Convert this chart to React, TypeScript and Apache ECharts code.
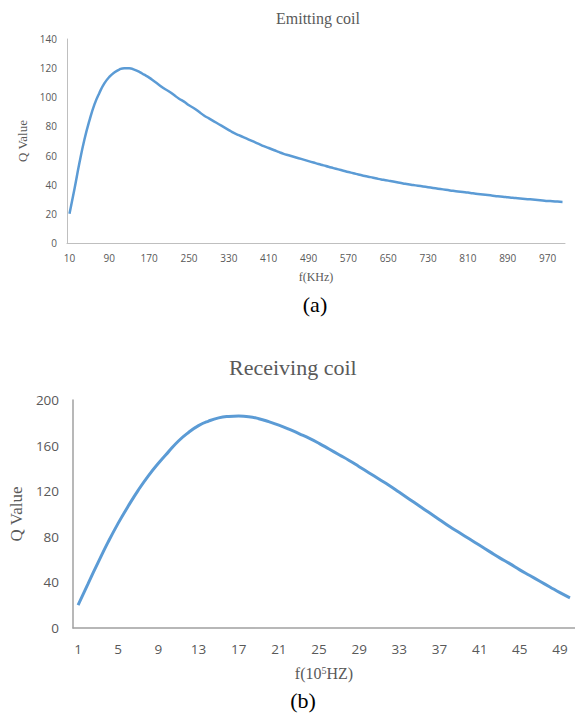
import React, { useEffect, useRef } from "react";
import * as echarts from "echarts";

const emitFreq = [
  10, 20, 30, 40, 50, 60, 70, 80, 90, 100, 110, 120, 130, 140, 150, 160, 170, 180, 190, 200,
  210, 220, 230, 240, 250, 260, 270, 280, 290, 300, 310, 320, 330, 340, 350, 360, 370, 380, 390, 400,
  410, 420, 430, 440, 450, 460, 470, 480, 490, 500, 510, 520, 530, 540, 550, 560, 570, 580, 590, 600,
  610, 620, 630, 640, 650, 660, 670, 680, 690, 700, 710, 720, 730, 740, 750, 760, 770, 780, 790, 800,
  810, 820, 830, 840, 850, 860, 870, 880, 890, 900, 910, 920, 930, 940, 950, 960, 970, 980, 990, 1000,
];
const emitQ = [
  20, 37, 55, 71, 84, 95, 103, 109.5, 114, 117, 119, 120, 120, 119, 117.5, 115.5, 113.5, 111, 108.5, 106,
  104, 101.5, 99, 97, 94.5, 92.5, 90, 87.5, 85.5, 83.5, 81.5, 79.5, 77.5, 75.5, 74, 72.5, 71, 69.5, 68, 66.5,
  65.2, 63.8, 62.5, 61.2, 60.2, 59.2, 58.2, 57.2, 56.2, 55.2, 54.2, 53.3, 52.3, 51.4, 50.5, 49.6, 48.7, 47.9, 47, 46.2,
  45.5, 44.8, 44, 43.4, 42.8, 42.2, 41.5, 40.9, 40.3, 39.8, 39.3, 38.8, 38.3, 37.8, 37.3, 36.8, 36.3, 35.8, 35.4, 35,
  34.6, 34.1, 33.7, 33.3, 32.9, 32.5, 32.1, 31.8, 31.4, 31, 30.7, 30.4, 30.1, 29.8, 29.5, 29.2, 28.9, 28.7, 28.4, 28.2,
];

const recvFreq = [
  1, 2, 3, 4, 5, 6, 7, 8, 9, 10, 11, 12, 13, 14, 15, 16, 17, 18, 19, 20, 21, 22, 23, 24, 25,
  26, 27, 28, 29, 30, 31, 32, 33, 34, 35, 36, 37, 38, 39, 40, 41, 42, 43, 44, 45, 46, 47, 48, 49, 50,
];
const recvQ = [
  20, 39, 57.5, 75.5, 92, 107, 121, 133.5, 144.5, 154.5, 164, 171.5, 177.5, 181.5, 184.3, 185.6, 186, 185.4, 183.6, 181,
  178, 174.5, 170.5, 166.5, 162, 157, 152, 147, 141.5, 136, 130.5, 125, 119, 113, 107, 101, 95, 89, 83.5, 78,
  72.5, 67, 61.5, 56.5, 51, 46, 41, 36, 31, 26.5,
];

const titleTop = "Emitting coil";
const titleBottom = "Receiving coil";
const yName = "Q Value";
const xNameTop = "f(KHz)";
const xNameBottom = "f(10{sup|5}HZ)";
const captionA = "(a)";
const captionB = "(b)";

const SERIF = "'Liberation Serif', 'Times New Roman', serif";
const SANS = "'Open Sans', 'Noto Sans', sans-serif";
const GRAY = "#595959";
const BLUE = "#5b9bd5";

export default function App() {
  const ref = useRef<HTMLDivElement>(null);
  useEffect(() => {
    if (!ref.current) return;
    const chart = echarts.init(ref.current, undefined, { renderer: "svg" });
    chart.setOption({
      animation: false,
      backgroundColor: "#ffffff",
      title: [
        {
          text: titleTop,
          left: 271,
          top: 5,
          textStyle: { fontFamily: SERIF, fontSize: 16, fontWeight: "normal", color: GRAY },
        },
        {
          text: titleBottom,
          left: 224,
          top: 351,
          textStyle: { fontFamily: SERIF, fontSize: 22, fontWeight: "normal", color: GRAY },
        },
      ],
      grid: [
        { left: 67, right: 10, top: 39, height: 204 },
        { left: 67, right: -3, top: 400, height: 228 },
      ],
      xAxis: [
        {
          type: "category",
          gridIndex: 0,
          data: emitFreq,
          boundaryGap: true,
          axisLine: { lineStyle: { color: "#bfbfbf", width: 1 } },
          axisTick: { show: false },
          axisLabel: { interval: 7, color: GRAY, fontFamily: SANS, fontSize: 10, margin: 10 },
          name: xNameTop,
          nameLocation: "middle",
          nameGap: 28,
          nameTextStyle: { fontFamily: SERIF, fontSize: 12, color: GRAY },
        },
        {
          type: "category",
          gridIndex: 1,
          data: recvFreq,
          boundaryGap: true,
          axisLine: { lineStyle: { color: "#a0a0a0", width: 1.5 } },
          axisTick: { show: false },
          axisLabel: { interval: 3, color: GRAY, fontFamily: SANS, fontSize: 13.5, margin: 14 },
          name: xNameBottom,
          nameLocation: "middle",
          nameGap: 37,
          nameTextStyle: {
            fontFamily: SERIF,
            fontSize: 16,
            color: GRAY,
            rich: { sup: { fontFamily: SERIF, fontSize: 10, color: GRAY, verticalAlign: "top" } },
          },
        },
      ],
      yAxis: [
        {
          type: "value",
          gridIndex: 0,
          min: 0,
          max: 140,
          interval: 20,
          axisLine: { show: true, lineStyle: { color: "#bfbfbf", width: 1 } },
          axisTick: { show: false },
          splitLine: { show: false },
          axisLabel: { color: GRAY, fontFamily: SANS, fontSize: 10, margin: 10 },
          name: yName,
          nameLocation: "middle",
          nameRotate: 90,
          nameGap: 31,
          nameTextStyle: { fontFamily: SERIF, fontSize: 13, color: GRAY },
        },
        {
          type: "value",
          gridIndex: 1,
          min: 0,
          max: 200,
          interval: 40,
          axisLine: { show: true, lineStyle: { color: "#a0a0a0", width: 1.5 } },
          axisTick: { show: false },
          splitLine: { show: false },
          axisLabel: { color: GRAY, fontFamily: SANS, fontSize: 13.5, margin: 14 },
          name: yName,
          nameLocation: "middle",
          nameRotate: 90,
          nameGap: 43,
          nameTextStyle: { fontFamily: SERIF, fontSize: 17, color: GRAY },
        },
      ],
      series: [
        {
          type: "line",
          xAxisIndex: 0,
          yAxisIndex: 0,
          data: emitQ,
          smooth: true,
          showSymbol: false,
          lineStyle: { color: BLUE, width: 2.5 },
        },
        {
          type: "line",
          xAxisIndex: 1,
          yAxisIndex: 1,
          data: recvQ,
          smooth: true,
          showSymbol: false,
          lineStyle: { color: BLUE, width: 3 },
        },
      ],
      graphic: [
        {
          type: "text",
          x: 315,
          y: 304,
          style: {
            text: captionA,
            fontFamily: SERIF,
            fontSize: 22,
            fill: "#000000",
            textAlign: "center",
            textVerticalAlign: "middle",
          },
        },
        {
          type: "text",
          x: 303,
          y: 700,
          style: {
            text: captionB,
            fontFamily: SERIF,
            fontSize: 22,
            fill: "#000000",
            textAlign: "center",
            textVerticalAlign: "middle",
          },
        },
      ],
    });
    return () => chart.dispose();
  }, []);
  return (
    <div
      ref={ref}
      style={{ position: "absolute", left: 0, top: 0, width: 575, height: 717 }}
    />
  );
}
